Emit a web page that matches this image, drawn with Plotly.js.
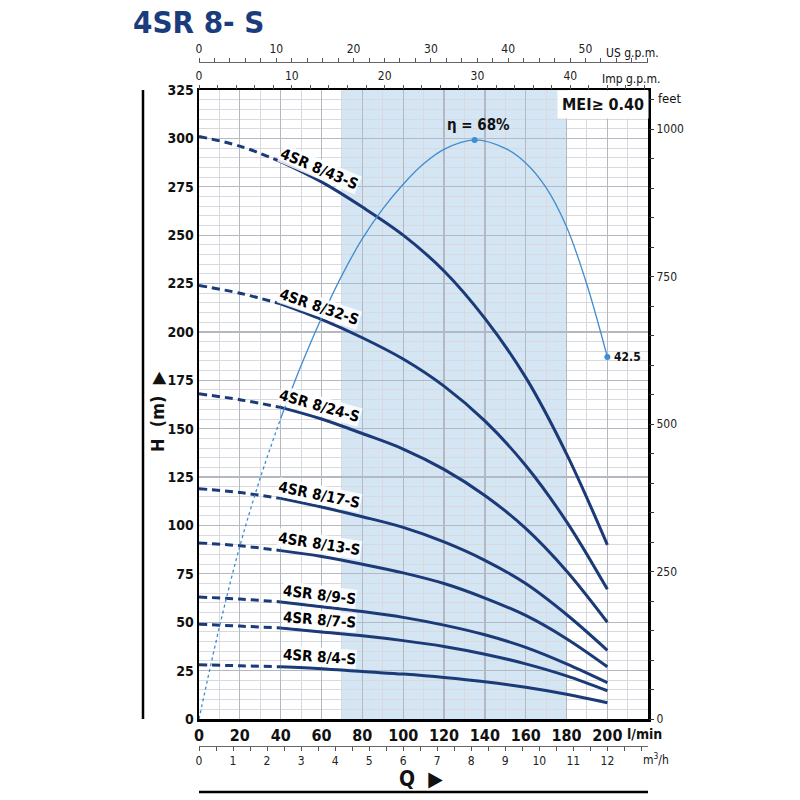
<!DOCTYPE html>
<html>
<head>
<meta charset="utf-8">
<script src="https://cdn.plot.ly/plotly-3.0.1.min.js"></script>
<style>
  html, body { margin: 0; padding: 0; background: #fff; }
  #chart { width: 800px; height: 800px; }
</style>
</head>
<body>
<div id="chart"></div>
<script>
// flow points (l/min) where the pump curves were read
const flowLpm = [0, 20, 40, 60, 80, 100, 120, 140, 160, 180, 200];

const pumpModels = ['4SR 8/43-S', '4SR 8/32-S', '4SR 8/24-S', '4SR 8/17-S',
                    '4SR 8/13-S', '4SR 8/9-S', '4SR 8/7-S', '4SR 8/4-S'];

// head in metres at each flowLpm value
const head43 = [301, 296, 288, 277.5, 264.5, 250, 231.5, 207, 176.5, 137, 90];
const head32 = [224, 220, 214.5, 206.5, 197, 186, 172, 154, 131, 102, 67];
const head24 = [168, 165, 161, 155, 147.5, 139.5, 129, 115.5, 98.5, 76.5, 50];
const head17 = [119, 117, 114, 109.5, 104.5, 99, 91.5, 82, 70, 54, 35.5];
const head13 = [91, 89.5, 87, 84, 80, 75.5, 70, 62.5, 53.5, 41.5, 27];
const head9 = [63, 62, 60.5, 58, 55.5, 52.5, 48.5, 43.5, 37, 28.5, 18.8];
const head7 = [49, 48, 47, 45, 43, 40.5, 37.5, 33.5, 28.5, 22.3, 14.6];
const head4 = [28, 27.5, 27, 26, 24.5, 23.2, 21.5, 19.3, 16.4, 12.8, 8.4];
const heads = [head43, head32, head24, head17, head13, head9, head7, head4];

// efficiency curve (%)
const effFlow = [0, 10, 20, 30, 40, 50, 60, 70, 80, 90, 100, 110, 120, 135, 150, 160, 170, 180, 190, 200];
const effPct = [0, 10.8, 20.3, 28.3, 35.3, 41.5, 47.1, 52.1, 56.4, 59.9, 62.8, 65.2, 66.9, 68, 67, 65.3, 62.4, 57.8, 51, 42.5];

const dashedUntil = 40;          // l/min, curves dashed below this
const workRange = [70, 180];     // l/min, shaded band
const flowTicks = [0, 20, 40, 60, 80, 100, 120, 140, 160, 180, 200];
const headTicks = [0, 25, 50, 75, 100, 125, 150, 175, 200, 225, 250, 275, 300, 325];
const feetTicks = [0, 250, 500, 750, 1000];
const m3hTicks = [0, 1, 2, 3, 4, 5, 6, 7, 8, 9, 10, 11, 12];
const meiText = 'MEI≥ 0.40';

// unit conversions
const LPM_PER_USGPM = 3.785411784;
const LPM_PER_IMPGPM = 4.54609;
const LPM_PER_M3H = 1000 / 60;
const FT_PER_M = 3.28084;
const M_PER_EFF = 4.4;  // how the efficiency curve is scaled onto the H axis

const qMax = 219.9, hMax = 325;
const navy = '#1b3a78';
const effBlue = '#3f8ccf';
const fontFam = "'Liberation Sans Narrow', 'DejaVu Sans Condensed', 'Open Sans', sans-serif";
const labelAngles = [23, 19, 16, 11.5, 9, 7, 4.5, 4];

const px = (v) => v / 800;
const xDom = [px(199), px(648)];
const yDom = [1 - px(719), 1 - px(90)];

const traces = [];
const annotations = [];
const k = flowLpm.indexOf(dashedUntil);

heads.forEach((h, i) => {
  traces.push({
    x: flowLpm.slice(0, k + 1), y: h.slice(0, k + 1),
    mode: 'lines', line: { color: navy, width: 3, dash: '8px,5px', shape: 'spline' },
    hoverinfo: 'skip'
  });
  traces.push({
    x: flowLpm.slice(k), y: h.slice(k),
    mode: 'lines', line: { color: navy, width: 3, shape: 'spline' },
    name: pumpModels[i]
  });
  // label centred a little right of the dashed/solid joint
  const qL = 59;
  const hL = h[k] + (h[k + 1] - h[k]) * (qL - flowLpm[k]) / (flowLpm[k + 1] - flowLpm[k]);
  annotations.push({
    x: qL, y: hL, xref: 'x', yref: 'y', text: '<b>' + pumpModels[i] + '</b>',
    xanchor: 'center', yanchor: 'middle',
    showarrow: false, textangle: labelAngles[i], yshift: 12,
    bgcolor: 'rgba(255,255,255,0.85)', borderpad: 0,
    font: { size: 15, color: '#000', family: fontFam }
  });
});

const ke = effFlow.indexOf(dashedUntil);
traces.push({
  x: effFlow.slice(0, ke + 1), y: effPct.slice(0, ke + 1), yaxis: 'y3',
  mode: 'lines', line: { color: effBlue, width: 1.3, dash: '3px,3px', shape: 'spline' },
  hoverinfo: 'skip'
});
traces.push({
  x: effFlow.slice(ke), y: effPct.slice(ke), yaxis: 'y3',
  mode: 'lines', line: { color: effBlue, width: 1.3, shape: 'spline' },
  name: 'η'
});
const iPeak = effPct.indexOf(Math.max(...effPct));
const iLast = effPct.length - 1;
traces.push({
  x: [effFlow[iPeak], effFlow[iLast]], y: [effPct[iPeak], effPct[iLast]], yaxis: 'y3',
  mode: 'markers', marker: { color: effBlue, size: 6 }, hoverinfo: 'skip'
});
// invisible traces so the extra unit axes get drawn
traces.push({ x: flowLpm.map(q => q / LPM_PER_IMPGPM), y: head43, xaxis: 'x2', mode: 'lines', opacity: 0, hoverinfo: 'skip' });
traces.push({ x: flowLpm.map(q => q / LPM_PER_USGPM), y: head43, xaxis: 'x3', mode: 'lines', opacity: 0, hoverinfo: 'skip' });
traces.push({ x: flowLpm.map(q => q / LPM_PER_M3H), y: head43, xaxis: 'x4', mode: 'lines', opacity: 0, hoverinfo: 'skip' });
traces.push({ x: flowLpm, y: head43.map(h => h * FT_PER_M), yaxis: 'y2', mode: 'lines', opacity: 0, hoverinfo: 'skip' });

function paperNote(xp, yp, text, size, extra) {
  return Object.assign({
    x: px(xp), y: 1 - px(yp), xref: 'paper', yref: 'paper', text: text,
    xanchor: 'center', yanchor: 'middle', showarrow: false,
    font: { size: size, color: '#111', family: fontFam }
  }, extra || {});
}

annotations.push(
  { x: effFlow[iPeak], y: effPct[iPeak], xref: 'x', yref: 'y3', text: '<b>η = ' + effPct[iPeak] + '%</b>',
    showarrow: false, xanchor: 'center', yanchor: 'bottom', yshift: 4, xshift: 4,
    font: { size: 15, color: '#111', family: fontFam } },
  { x: effFlow[iLast], y: effPct[iLast], xref: 'x', yref: 'y3', text: '<b>' + effPct[iLast] + '</b>',
    showarrow: false, xanchor: 'left', yanchor: 'middle', xshift: 5,
    font: { size: 12, color: '#111', family: fontFam } },
  paperNote(603, 105, '<b>' + meiText + '</b>', 16, { bgcolor: '#fff', borderpad: 4 }),
  paperNote(632, 53, 'US g.p.m.', 12),
  paperNote(631, 79, 'Imp g.p.m.', 12),
  paperNote(656, 98, 'feet', 13, { xanchor: 'left' }),
  paperNote(625, 734, '<b>l/min</b>', 14, { xanchor: 'left' }),
  paperNote(641, 759, 'm<sup>3</sup>/h', 12, { xanchor: 'left' }),
  paperNote(421, 779, '<b>Q  ▶</b>', 21),
  paperNote(157, 412, '<b>H  (m)  ▶</b>', 18, { textangle: -90 })
);

const topAxis = {
  overlaying: 'x', side: 'top', showgrid: false, zeroline: false,
  ticks: 'outside', ticklen: 4, tickcolor: '#555', dtick: 10, tick0: 0,
  minor: { dtick: 2, tick0: 0, ticks: 'outside', ticklen: 4, tickcolor: '#555' },
  tickfont: { size: 12, color: '#222', family: fontFam }
};

const layout = {
  width: 800, height: 800,
  margin: { l: 0, r: 0, t: 0, b: 0 },
  paper_bgcolor: '#fff', plot_bgcolor: '#fff',
  showlegend: false,
  font: { family: fontFam },
  title: {
    text: '<b>4SR 8- S</b>', x: px(133), xanchor: 'left', y: 1 - px(22), yanchor: 'middle',
    font: { size: 31, color: '#1a3c7c', family: fontFam }
  },
  xaxis: {
    domain: xDom, range: [0, qMax], anchor: 'y',
    tickvals: flowTicks, ticks: '',
    showgrid: true, gridcolor: '#b3b8c2', gridwidth: 1.3,
    minor: { tick0: 0, dtick: 10, showgrid: true, gridcolor: '#d8dadf', gridwidth: 1 },
    showline: true, linecolor: '#000', linewidth: 2.5, mirror: true, zeroline: false,
    tickfont: { size: 16, color: '#111', family: fontFam, weight: 'bold' }
  },
  xaxis2: Object.assign({}, topAxis, { anchor: 'y', range: [0, qMax / LPM_PER_IMPGPM] }),
  xaxis3: Object.assign({}, topAxis, {
    anchor: 'free', position: 1 - px(62), range: [0, qMax / LPM_PER_USGPM],
    showline: true, linecolor: '#666', linewidth: 1
  }),
  xaxis4: {
    overlaying: 'x', anchor: 'free', position: 1 - px(746), side: 'bottom',
    range: [0, qMax / LPM_PER_M3H], tickvals: m3hTicks, showgrid: false, zeroline: false,
    ticks: 'outside', ticklen: 4, tickcolor: '#555',
    minor: { tick0: 0, dtick: 0.5, ticks: 'outside', ticklen: 4, tickcolor: '#555' },
    showline: true, linecolor: '#666', linewidth: 1,
    tickfont: { size: 12, color: '#222', family: fontFam }
  },
  yaxis: {
    domain: yDom, range: [0, hMax], anchor: 'x',
    tickvals: headTicks, ticks: '',
    showgrid: true, gridcolor: '#b3b8c2', gridwidth: 1.3,
    minor: { tick0: 0, dtick: 5, showgrid: true, gridcolor: '#d8dadf', gridwidth: 1 },
    showline: true, linecolor: '#000', linewidth: 2.5, mirror: true, zeroline: false,
    tickfont: { size: 14, color: '#111', family: fontFam, weight: 'bold' }
  },
  yaxis2: {
    overlaying: 'y', side: 'right', anchor: 'x', range: [0, hMax * FT_PER_M],
    tickvals: feetTicks, showgrid: false, zeroline: false,
    ticks: 'outside', ticklen: 5, tickcolor: '#333',
    minor: { tick0: 0, dtick: 50, ticks: 'outside', ticklen: 5, tickcolor: '#333' },
    tickfont: { size: 12, color: '#222', family: fontFam }
  },
  yaxis3: { overlaying: 'y', anchor: 'x', range: [0, hMax / M_PER_EFF], visible: false },
  shapes: [
    { type: 'rect', layer: 'below', xref: 'x', yref: 'paper', x0: workRange[0], x1: workRange[1],
      y0: yDom[0], y1: yDom[1], fillcolor: '#d4e5f4', line: { width: 0 } },
    { type: 'line', xref: 'paper', yref: 'paper', x0: px(143), x1: px(143), y0: yDom[0], y1: yDom[1],
      line: { color: '#000', width: 2.5 } },
    { type: 'line', xref: 'paper', yref: 'paper', x0: xDom[0], x1: xDom[1], y0: 1 - px(792), y1: 1 - px(792),
      line: { color: '#000', width: 2.5 } }
  ],
  annotations: annotations
};

Plotly.newPlot('chart', traces, layout, { displayModeBar: false, staticPlot: true });
</script>
</body>
</html>
